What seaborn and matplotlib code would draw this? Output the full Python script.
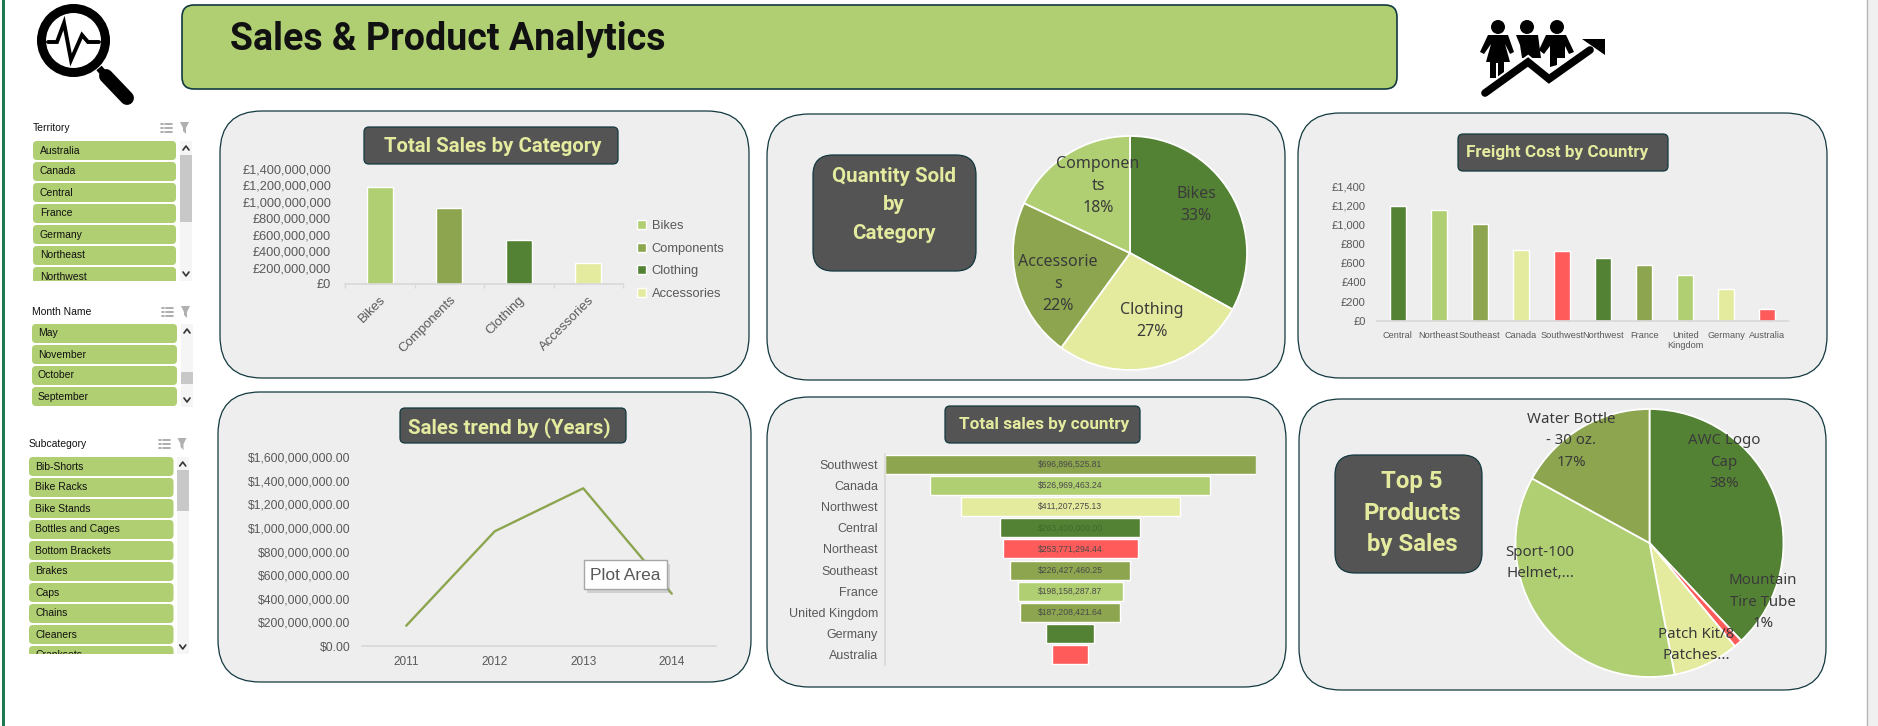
import matplotlib
matplotlib.use('Agg')
import matplotlib.pyplot as plt
import seaborn as sns
from matplotlib.patches import Circle, FancyBboxPatch, Polygon, Rectangle

W, H = 1878, 726

DARK = '#548235'
LIGHT = '#B0CE72'
MID = '#8CA54E'
PALE = '#E4EA9E'
RED = '#FF5B5B'
GREY_TXT = '#595959'
EDGE = '#12393F'
BOX = '#545454'

# Total sales by category
sales_cats = ['Bikes', 'Components', 'Clothing', 'Accessories']
sales_vals = [1180000000, 925000000, 536000000, 256000000]
sales_cols = [LIGHT, MID, DARK, PALE]

# Quantity sold
qty_cats = ['Bikes', 'Clothing', 'Accessories', 'Components']
qty_vals = [33, 27, 22, 18]
qty_cols = [DARK, PALE, MID, LIGHT]

# Freight cost
freight_names = ['Central', 'Northeast', 'Southeast', 'Canada', 'Southwest', 'Northwest',
                 'France', 'United\nKingdom', 'Germany', 'Australia']
freight_vals = [1193, 1151, 1006, 736, 726, 653, 581, 477, 332, 124]
freight_cols = [DARK, LIGHT, MID, PALE, RED, DARK, MID, LIGHT, PALE, RED]

# Sales trend
trend_years = ['2011', '2012', '2013', '2014']
trend_vals = [172000000, 971000000, 1335000000, 443000000]

# Total sales by country (Central, Germany and Australia)
country_names = ['Southwest', 'Canada', 'Northwest', 'Central', 'Northeast', 'Southeast',
                 'France', 'United Kingdom', 'Germany', 'Australia']
country_vals = [696896525.81, 526969463.24, 411207275.13, 263400000.00, 253771294.44,
                226427460.25, 198158287.87, 187208421.64, 90800000.00, 67400000.00]
country_cols = [MID, LIGHT, PALE, DARK, RED, MID, LIGHT, MID, DARK, RED]

# Top 5 products
top_names = ['AWC Logo Cap', 'Mountain Tire Tube', 'Patch Kit/8 Patches', 'Sport-100 Helmet', 'Water Bottle - 30 oz.']
top_vals = [38, 1, 8, 36, 17]
top_cols = [DARK, RED, PALE, LIGHT, MID]

# Slicers
territory_items = ['Australia', 'Canada', 'Central', 'France', 'Germany', 'Northeast', 'Northwest']
month_items = ['May', 'November', 'October', 'September']
subcat_items = ['Bib-Shorts', 'Bike Racks', 'Bike Stands', 'Bottles and Cages', 'Bottom Brackets',
                'Brakes', 'Caps', 'Chains', 'Cleaners', 'Cranksets']

sns.set_theme(style='white')
plt.rcParams['font.family'] = ['Liberation Sans', 'DejaVu Sans']

fig = plt.figure(figsize=(W / 100, H / 100), dpi=100, facecolor='white')


def px_axes(x0, y0, x1, y1, z=2):
    ax = fig.add_axes([x0 / W, 1 - y1 / H, (x1 - x0) / W, (y1 - y0) / H], zorder=z)
    ax.patch.set_alpha(0)
    return ax


def round_box(ax, x0, y0, x1, y1, r, fc, ec=EDGE, lw=0.9, z=1):
    ax.add_patch(FancyBboxPatch((x0, y0), x1 - x0, y1 - y0, boxstyle=f'round,pad=0,rounding_size={r}',
                                fc=fc, ec=ec, lw=lw, zorder=z))


def style_axis(ax, size):
    sns.despine(ax=ax, left=True)
    ax.spines['bottom'].set_color('#D9D9D9')
    ax.set(xlabel=None, ylabel=None)
    ax.tick_params(axis='y', length=0, labelsize=size, labelcolor=GREY_TXT)


# pixel-coordinate layers, one under the charts and one over them
bg = fig.add_axes([0, 0, 1, 1], zorder=0)
bg.set_xlim(0, W)
bg.set_ylim(H, 0)
bg.axis('off')
top = fig.add_axes([0, 0, 1, 1], zorder=5)
top.set_xlim(0, W)
top.set_ylim(H, 0)
top.axis('off')

# window edges
bg.add_patch(Rectangle((2, 0), 2.5, H, fc='#1E7A50', ec='none'))
bg.add_patch(Rectangle((1867, 0), 11, H, fc='#F0F0F0', ec='none'))
bg.plot([1867, 1867], [0, H], color='#B5B5B5', lw=1)

# banner
round_box(bg, 182, 5, 1397, 89, 12, LIGHT, lw=1.2)
bg.text(230, 39, 'Sales & Product Analytics', family='Roboto', weight='bold', fontsize=27,
        color='#111111', va='center', ha='left')

# panels
panels = [(220, 111, 749, 378), (767, 114, 1285, 380), (1298, 113, 1827, 378),
          (218, 392, 751, 682), (767, 397, 1286, 687), (1299, 399, 1826, 690)]
for p in panels:
    round_box(bg, p[0], p[1], p[2], p[3], 42, '#EEEEEE')

# heading boxes
headings = [
    (364, 127, 618, 164, 5, 'Total Sales by Category', 493, 147, 14.7, 1.45),
    (400, 408, 626, 443, 5, 'Sales trend by (Years)', 509, 428, 14.7, 1.45),
    (945, 406, 1140, 443, 5, 'Total sales by country', 1044, 424, 12.3, 1.45),
    (1458, 134, 1668, 171, 5, 'Freight Cost by Country', 1557, 152, 12.3, 1.45),
    (813, 155, 976, 271, 20, 'Quantity Sold\nby\nCategory', 894, 205, 14.8, 1.65),
    (1335, 455, 1482, 573, 20, 'Top 5\nProducts\nby Sales', 1412, 513, 17.3, 1.45),
]
for x0, y0, x1, y1, r, label, tx, ty, size, spacing in headings:
    round_box(bg, x0, y0, x1, y1, r, BOX, z=2)
    bg.text(tx, ty, label, family='Roboto', weight='bold', fontsize=size, color=PALE,
            ha='center', va='center', linespacing=spacing, zorder=3)

# Total sales by category
ax1 = px_axes(345, 169, 623, 284)
sns.barplot(x=sales_cats, y=sales_vals, hue=sales_cats, palette=sales_cols, width=0.38,
            saturation=1, legend=True, ax=ax1)
ax1.set_ylim(0, 1400000000)
ax1.set_yticks(range(0, 1400000001, 200000000))
ax1.set_yticklabels([f'£{v:,}' for v in range(0, 1400000001, 200000000)])
style_axis(ax1, 9.2)
ax1.tick_params(axis='y', pad=10)
ax1.set_xlim(-0.5, 3.5)
ax1.set_xticks([-0.5, 0.5, 1.5, 2.5, 3.5], minor=True)
ax1.tick_params(axis='x', which='minor', length=3, color='#D9D9D9', bottom=True)
ax1.tick_params(axis='x', which='major', length=0, pad=7)
ax1.set_xticks(range(4))
ax1.set_xticklabels(sales_cats, rotation=45, ha='right', rotation_mode='anchor', fontsize=9.5, color=GREY_TXT)
sns.move_legend(ax1, loc='center left', bbox_to_anchor=(1.01, 0.21), frameon=False, title=None, fontsize=9.3,
                labelspacing=0.82, handlelength=0.7, handleheight=0.7, handletextpad=0.4, labelcolor=GREY_TXT)

# Quantity sold pie
ax2 = px_axes(1013, 136, 1247, 370)
ax2.pie(qty_vals, colors=qty_cols, startangle=90, counterclock=False, radius=1,
        wedgeprops={'edgecolor': 'white', 'linewidth': 1.3})
ax2.set_xlim(-1, 1)
ax2.set_ylim(-1, 1)

qty_labels = [('Bikes\n33%', 1196, 205), ('Componen\nts\n18%', 1098, 186),
              ('Accessorie\ns\n22%', 1058, 284), ('Clothing\n27%', 1152, 321)]
for label, tx, ty in qty_labels:
    top.text(tx, ty, label, family='Noto Sans', fontsize=11.5, color='#3A3A3A', ha='center', va='center', linespacing=1.5)

# Freight cost
ax3 = px_axes(1377, 186, 1788, 321)
sns.barplot(x=freight_names, y=freight_vals, hue=freight_names, palette=freight_cols, width=0.39,
            saturation=1, legend=False, ax=ax3)
ax3.set_ylim(0, 1400)
ax3.set_yticks(range(0, 1401, 200))
ax3.set_yticklabels([f'£{v:,}' for v in range(0, 1401, 200)])
style_axis(ax3, 8)
ax3.tick_params(axis='y', pad=8)
ax3.set_xlim(-0.5, 9.5)
ax3.tick_params(axis='x', length=0, pad=7, labelsize=6.6, labelcolor=GREY_TXT)

# Sales trend
ax4 = px_axes(362, 457, 716, 646)
sns.lineplot(x=trend_years, y=trend_vals, color=MID, linewidth=1.7, ax=ax4)
ax4.set_ylim(0, 1600000000)
ax4.set_yticks(range(0, 1600000001, 200000000))
ax4.set_yticklabels([f'${v:,}.00' for v in range(0, 1600000001, 200000000)])
style_axis(ax4, 8.7)
ax4.tick_params(axis='y', pad=8.5)
ax4.set_xlim(-0.5, 3.5)
ax4.tick_params(axis='x', length=0, pad=7, labelsize=8.5, labelcolor=GREY_TXT)

# Total sales by country, bars centred to make the funnel
ax5 = px_axes(885, 454, 1255.5, 665)
sns.barplot(y=country_names, x=country_vals, hue=country_names, palette=country_cols, width=0.9,
            saturation=1, legend=False, ax=ax5)
ax5.set_xlim(0, max(country_vals))
for cont, val, name in zip(ax5.containers, country_vals, country_names):
    cont[0].set_x((max(country_vals) - val) / 2)
    # the last two bars carry no readable label in the source
    txt = '' if name in ('Germany', 'Australia') else f'${val:,.2f}'
    ax5.bar_label(cont, labels=[txt], label_type='center', fontsize=6.2,
                  color='#3F6A2A' if name == 'Central' else '#4A4A4A')
sns.despine(ax=ax5, bottom=True)
ax5.spines['left'].set_color('#D9D9D9')
ax5.set(xlabel=None, ylabel=None, xticks=[])
ax5.tick_params(axis='y', length=0, pad=5, labelsize=9, labelcolor=GREY_TXT)

# Top 5 products pie
ax6 = px_axes(1515, 409, 1784, 677)
ax6.pie(top_vals, colors=top_cols, startangle=90, counterclock=False, radius=1,
        wedgeprops={'edgecolor': 'white', 'linewidth': 1.3})
ax6.set_xlim(-1, 1)
ax6.set_ylim(-1, 1)

top_labels = [('Water Bottle\n- 30 oz.\n17%', 1571, 441), ('AWC Logo\nCap\n38%', 1724, 462),
              ('Sport-100\nHelmet,...', 1540, 563), ('Mountain\nTire Tube\n1%', 1763, 602),
              ('Patch Kit/8\nPatches...', 1696, 645)]
for label, tx, ty in top_labels:
    top.text(tx, ty, label, family='Noto Sans', fontsize=10.8, color='#3A3A3A', ha='center', va='center', linespacing=1.55)

# "Plot Area" tooltip
top.add_patch(Rectangle((587, 564), 83, 29, fc='#999999', ec='none', alpha=0.35))
top.add_patch(Rectangle((584, 560), 83, 29, fc='white', ec='#A6A6A6', lw=1))
top.text(625.5, 575, 'Plot Area', fontsize=12.5, color=GREY_TXT, ha='center', va='center')


# slicers
def slicer(title, items, x0, x1, y_title, y_first, y_clip, text_x, sb_x0, sb_x1, thumb):
    bg.text(x0, y_title, title, fontsize=7.5, color='#111111', va='center', ha='left')
    bg.add_patch(Rectangle((sb_x0, y_first), sb_x1 - sb_x0, y_clip - y_first, fc='#F5F5F5', ec='none', zorder=1))
    bg.add_patch(Rectangle((sb_x0, thumb[0]), sb_x1 - sb_x0, thumb[1] - thumb[0], fc='#C8C8C8', ec='none', zorder=2))
    mid = (sb_x0 + sb_x1) / 2
    for yy, d in ((y_first + 7, -2), (y_clip - 7, 2)):
        bg.plot([mid - 3, mid, mid + 3], [yy - d, yy + d, yy - d], color='#333333', lw=1.2, zorder=3)
    for i, item in enumerate(items):
        y = y_first + 21 * i
        round_box(bg, x0, y, x1, y + 19, 4, LIGHT, ec='none', lw=0, z=1)
        bg.text(text_x, y + 9.5, item, fontsize=7.5, color='#111111', va='center', ha='left', zorder=2)
    # items that run past the slicer are cut off by the frame
    bg.add_patch(Rectangle((x0 - 1, y_clip), x1 - x0 + 2, 18, fc='white', ec='none', zorder=4))
    # header buttons
    ix = x1 - 13
    for k in range(3):
        bg.plot([ix + 2, ix + 9], [y_title - 4 + 4 * k] * 2, color='#A0A0A0', lw=1.2)
        bg.plot([ix - 2, ix], [y_title - 4 + 4 * k] * 2, color='#A0A0A0', lw=1.2)
    fx = x1 + 4
    bg.add_patch(Polygon([(fx, y_title - 6), (fx + 9, y_title - 6), (fx + 6, y_title), (fx + 6, y_title + 6),
                          (fx + 3, y_title + 3), (fx + 3, y_title)], fc='#B0B0B0', ec='none'))


slicer('Territory', territory_items, 33, 176, 128, 141, 281, 40, 180, 192, (155, 222))
slicer('Month Name', month_items, 32, 177, 312, 324, 407, 38, 181, 193, (372, 384))
slicer('Subcategory', subcat_items, 29, 173.5, 444, 457, 654, 35, 177, 188.5, (470, 511))

# magnifier icon
bg.add_patch(Circle((73.5, 40.5), 32, fc='white', ec='black', lw=6.5))
bg.plot([99, 106], [68, 76], color='black', lw=5, solid_capstyle='butt')
bg.plot([106, 127], [76, 98], color='black', lw=10, solid_capstyle='round')
bg.plot([48, 57, 64, 71, 82, 88, 99], [42, 42, 23, 60, 35, 42, 42], color='black', lw=2.8, solid_joinstyle='miter')

# people and arrow icon
for hx in (1498, 1527, 1557):
    bg.add_patch(Circle((hx, 27), 7, fc='black', ec='none'))
bg.add_patch(Polygon([(1488, 35), (1508, 35), (1514, 52), (1510, 54), (1505, 44), (1510, 62), (1504, 62), (1504, 78),
                      (1498, 78), (1498, 63), (1496, 63), (1496, 78), (1490, 78), (1490, 62), (1486, 62), (1491, 44),
                      (1484, 54), (1480, 52)], fc='black', ec='none'))
bg.add_patch(Polygon([(1516, 35), (1538, 35), (1541, 58), (1522, 58), (1520, 45)], fc='black', ec='none'))
bg.add_patch(Polygon([(1546, 35), (1566, 35), (1574, 52), (1569, 54), (1565, 46), (1565, 58), (1557, 58), (1557, 65),
                      (1550, 67), (1550, 46), (1544, 54), (1539, 50)], fc='black', ec='none'))
bg.plot([1485, 1528, 1549, 1590], [93, 62, 79, 50], color='white', lw=8.5, solid_joinstyle='miter', zorder=3)
bg.plot([1485, 1528, 1549, 1590], [93, 62, 79, 50], color='black', lw=5.5, solid_joinstyle='miter', zorder=4)
bg.add_patch(Polygon([(1582, 39), (1605, 39), (1605, 55)], fc='black', ec='none', zorder=4))

fig.savefig('out.png', dpi=100)
